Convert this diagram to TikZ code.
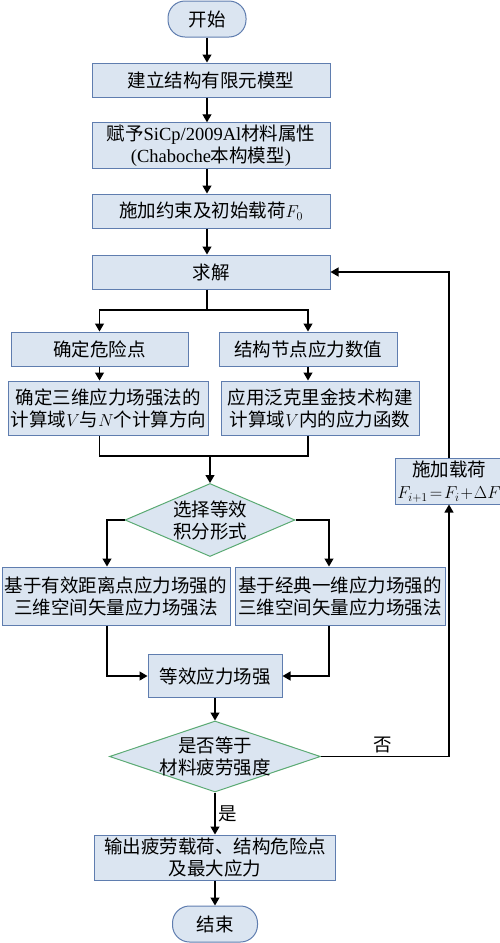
\documentclass[tikz,border=0pt]{standalone}
\usepackage{fontspec}
\setmainfont{Liberation Serif}
\newfontfamily\cjk{Noto Sans CJK SC}
\usetikzlibrary{arrows.meta}
\usetikzlibrary{shapes.geometric}
\definecolor{boxfill}{RGB}{219,229,241}
\definecolor{boxline}{RGB}{95,125,175}
\definecolor{decline}{RGB}{90,170,115}
\newcommand{\latn}[1]{{\rmfamily #1}}
\tikzset{blk/.style={rectangle, draw=boxline, fill=boxfill, line width=1pt, inner sep=2pt,
   align=center, font=\cjk\fontsize{18.5}{22}\selectfont}}
\tikzset{term/.style={blk, rounded corners=17pt}}
\tikzset{dec/.style={diamond, draw=decline, fill=boxfill, line width=1pt, inner sep=0pt}}
\tikzset{lbl/.style={align=center, font=\cjk\fontsize{18.5}{22}\selectfont}}
\tikzset{wire/.style={line width=1.2pt}}
\tikzset{ln/.style={wire, -{Triangle[length=8pt,width=9pt]}}}

\begin{document}
\begin{tikzpicture}[x=1pt, y=-1pt]
    \useasboundingbox (0,0) rectangle (500,943);

    \node[term, minimum width=78pt, minimum height=36pt] (start) at (207,19) {开始};
    \node[blk, minimum width=238pt, minimum height=34pt] (model) at (211,80) {建立结构有限元模型};
    \node[blk, minimum width=238pt, minimum height=45pt] (attr) at (211,145.5)
        {赋予\latn{SiCp/2009Al}材料属性\\\latn{(Chaboche}本构模型\latn{)}};
    \node[blk, minimum width=238pt, minimum height=34pt] (load0) at (211,211) {施加约束及初始载荷$F_0$};
    \node[blk, minimum width=238pt, minimum height=34pt] (solve) at (211,272) {求解};

    \node[blk, minimum width=177pt, minimum height=34pt] (danger) at (99.5,349) {确定危险点};
    \node[blk, minimum width=178pt, minimum height=34pt] (nodal) at (308,349) {结构节点应力数值};
    \node[blk, minimum width=195pt, minimum height=54pt] (domain) at (108.5,408)
        {确定三维应力场强法的\\计算域$V$与$N$个计算方向};
    \node[blk, minimum width=198pt, minimum height=54pt] (kriging) at (320,408)
        {应用泛克里金技术构建\\计算域$V$内的应力函数};

    \node[dec, minimum width=170pt, minimum height=73pt,
          label={[lbl]center:选择等效\\积分形式}] (choose) at (210,520) {};

    \node[blk, minimum width=228pt, minimum height=58pt] (effd) at (116,596)
        {基于有效距离点应力场强的\\三维空间矢量应力场强法};
    \node[blk, minimum width=210pt, minimum height=58pt] (clas) at (340,596)
        {基于经典一维应力场强的\\三维空间矢量应力场强法};
    \node[blk, minimum width=134pt, minimum height=43pt] (equiv) at (215,676) {等效应力场强};

    \node[dec, minimum width=211pt, minimum height=71pt,
          label={[lbl]center:是否等于\\材料疲劳强度}] (check) at (215,756.5) {};

    \node[blk, minimum width=241pt, minimum height=45pt] (output) at (215,857.5)
        {输出疲劳载荷、结构危险点\\及最大应力};
    \node[term, minimum width=85pt, minimum height=36pt] (finish) at (215,924) {结束};

    \node[blk, minimum width=99pt, minimum height=45pt] (load) at (449,481.5)
        {施加载荷\\$F_{i+1}\!=\!F_i\!+\!\Delta F$};

    % main line
    \draw[ln] (start) -- (start |- model.north);
    \draw[ln] (start |- model.south) -- (start |- attr.north);
    \draw[ln] (start |- attr.south) -- (start |- load0.north);
    \draw[ln] (start |- load0.south) -- (start |- solve.north);

    % split and merge
    \coordinate (split) at (207,310);
    \coordinate (merge) at (210,456);
    \draw[wire] (start |- solve.south) -- (split);
    \draw[ln] (split) -| (danger);
    \draw[ln] (split) -| (nodal);
    \draw[ln] (danger.south) -- (danger.south |- domain.north);
    \draw[ln] (nodal.south) -- (nodal.south |- kriging.north);
    \draw[wire] (danger.south |- domain.south) |- (merge);
    \draw[wire] (nodal.south |- kriging.south) |- (merge);
    \draw[ln] (merge) -- (choose);

    \coordinate (lx) at (107,0);
    \coordinate (rx) at (329,0);
    \draw[ln] (choose.west) -| (lx |- effd.north);
    \draw[ln] (choose.east) -| (rx |- clas.north);
    \draw[ln] (lx |- effd.south) |- (equiv);
    \draw[ln] (rx |- clas.south) |- (equiv);
    \draw[ln] (equiv) -- (check);
    \draw[ln] (check) -- node[right, lbl] {是} (output);
    \draw[ln] (output) -- (finish);

    % loop
    \draw[ln] (check.east) -| node[pos=0.24, above, lbl] {否} (load);
    \draw[ln] (load) |- (solve);

\end{tikzpicture}
\end{document}
